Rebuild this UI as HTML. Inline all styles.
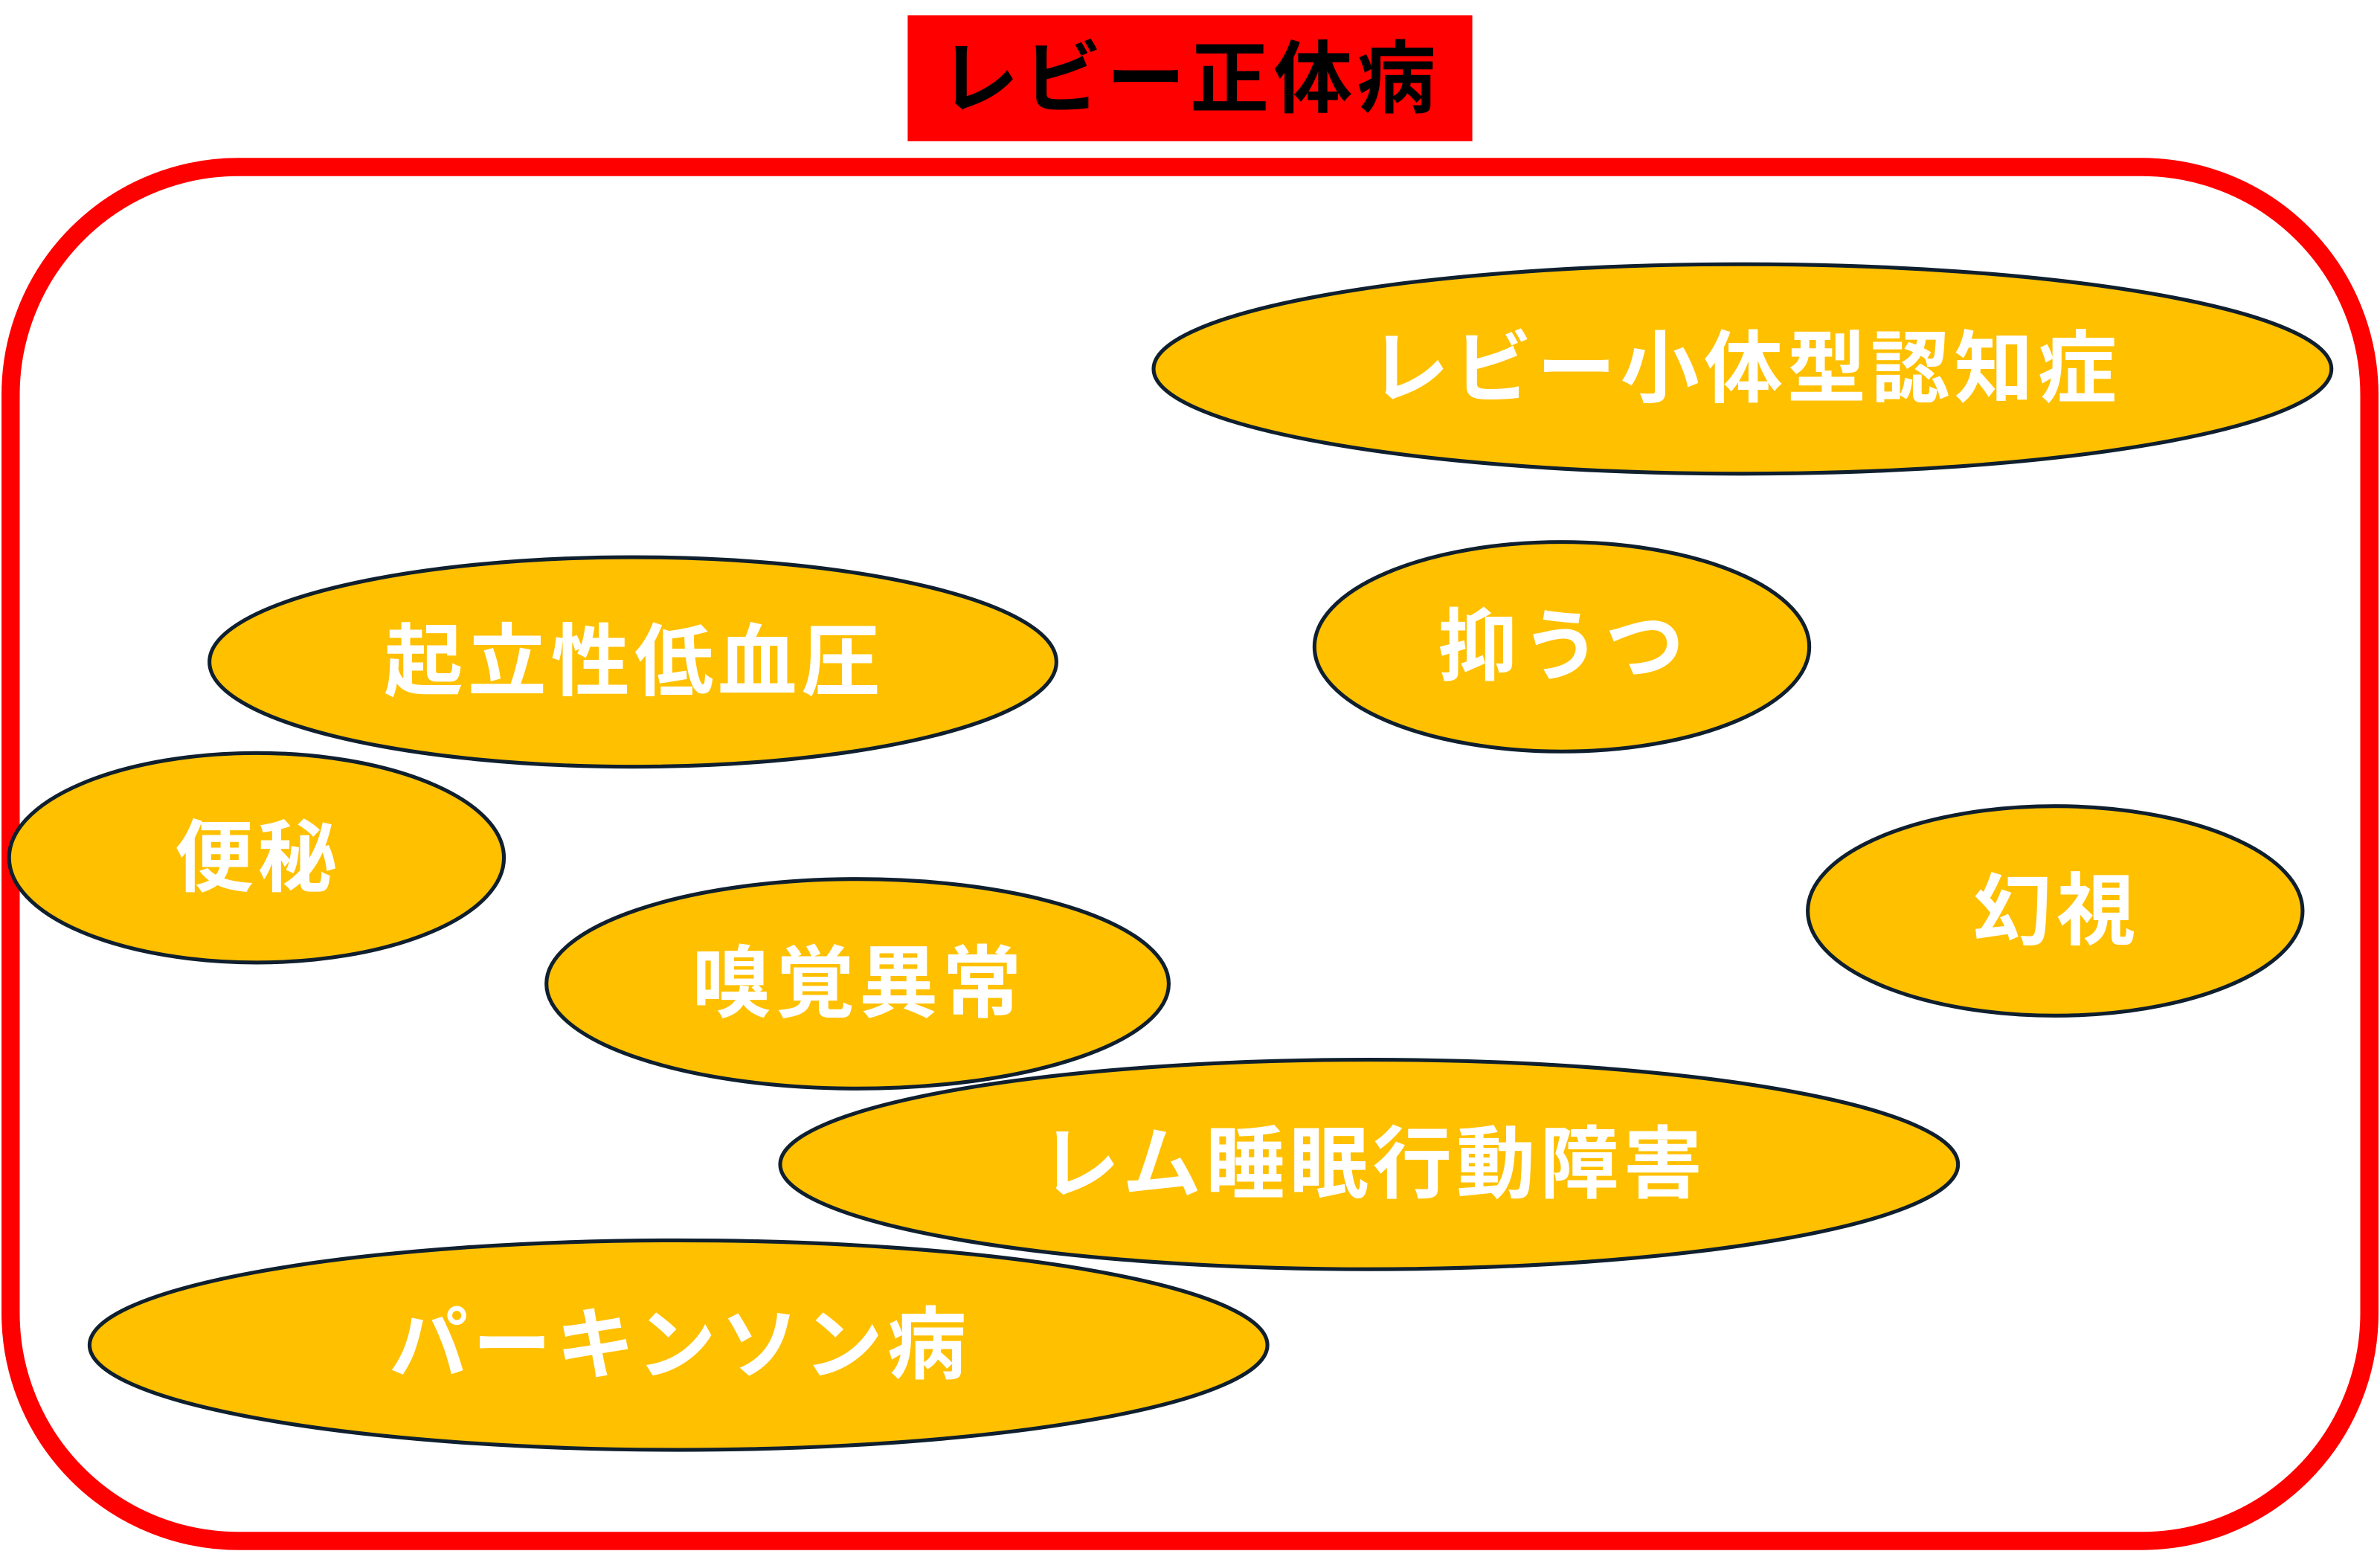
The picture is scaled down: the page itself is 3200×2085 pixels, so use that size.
<!DOCTYPE html>
<html><head><meta charset="utf-8"><style>
html,body{margin:0;padding:0;background:#fff;width:3200px;height:2085px;overflow:hidden}
svg{display:block}
text{font-family:"Liberation Sans","Noto Sans CJK JP",sans-serif;font-weight:bold}
</style></head><body>
<svg width="3200" height="2085" viewBox="0 0 1568 1021.6" xmlns="http://www.w3.org/2000/svg">
<rect x="598" y="10" width="372" height="83" fill="#ff0000"/>
<text x="784" y="70" font-size="52" text-anchor="middle" fill="#000" letter-spacing="3">レビー正体病</text>
<rect x="7" y="110" width="1554" height="905" rx="150" ry="150" fill="none" stroke="#ff0000" stroke-width="12"/>
<g fill="#ffc000" stroke="#0f1f2e" stroke-width="2.5">
<ellipse cx="1148" cy="243" rx="388" ry="69"/>
<ellipse cx="417" cy="436" rx="279" ry="69"/>
<ellipse cx="1029" cy="426" rx="163" ry="69"/>
<ellipse cx="169" cy="565" rx="163" ry="69"/>
<ellipse cx="1354" cy="600" rx="163" ry="69"/>
<ellipse cx="565" cy="648" rx="205" ry="69"/>
<ellipse cx="902" cy="767" rx="388" ry="69"/>
<ellipse cx="447" cy="886" rx="388" ry="69"/>
</g>
<g fill="#fff" font-size="52" text-anchor="middle" letter-spacing="3">
<text x="1150" y="261">レビー小体型認知症</text>
<text x="418" y="454">起立性低血圧</text>
<text x="1030" y="444">抑うつ</text>
<text x="170" y="583">便秘</text>
<text x="1355" y="618">幻視</text>
<text x="566" y="666">嗅覚異常</text>
<text x="905" y="785">レム睡眠行動障害</text>
<text x="448" y="904">パーキンソン病</text>
</g>
</svg>
</body></html>
